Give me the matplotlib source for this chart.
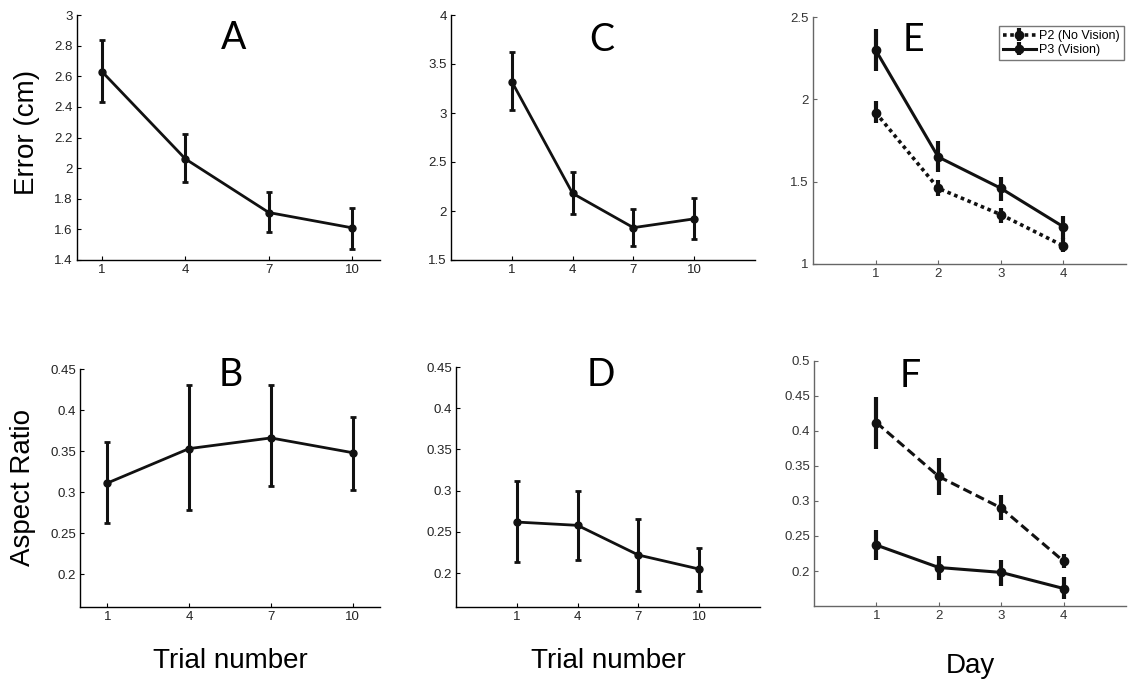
import numpy as np
import matplotlib
matplotlib.use("Agg")
import matplotlib.pyplot as plt

plt.rcParams['font.family'] = ['Liberation Sans', 'DejaVu Sans']

# --- data ---
trials = [1, 4, 7, 10]
days = [1, 2, 3, 4]

a_err = [2.63, 2.06, 1.71, 1.61]
a_hi = [2.84, 2.22, 1.845, 1.74]
a_lo = [2.43, 1.91, 1.58, 1.475]

c_err = [3.32, 2.18, 1.83, 1.92]
c_hi = [3.62, 2.40, 2.02, 2.13]
c_lo = [3.03, 1.97, 1.64, 1.71]

b_ar = [0.311, 0.353, 0.366, 0.348]
b_hi = [0.361, 0.430, 0.430, 0.392]
b_lo = [0.262, 0.278, 0.307, 0.303]

d_ar = [0.262, 0.258, 0.222, 0.205]
d_hi = [0.312, 0.300, 0.266, 0.230]
d_lo = [0.213, 0.216, 0.178, 0.178]

e_p2 = [1.92, 1.46, 1.30, 1.11]
e_p2_hi = [1.99, 1.51, 1.34, 1.16]
e_p2_lo = [1.855, 1.41, 1.25, 1.07]
e_p3 = [2.30, 1.65, 1.46, 1.226]
e_p3_hi = [2.43, 1.75, 1.53, 1.29]
e_p3_lo = [2.175, 1.56, 1.38, 1.15]

f_p2 = [0.412, 0.335, 0.290, 0.214]
f_p2_hi = [0.448, 0.361, 0.309, 0.224]
f_p2_lo = [0.374, 0.309, 0.273, 0.204]
f_p3 = [0.237, 0.205, 0.198, 0.175]
f_p3_hi = [0.259, 0.222, 0.216, 0.192]
f_p3_lo = [0.216, 0.187, 0.179, 0.160]

fig = plt.figure(figsize=(11.28, 6.84), dpi=100)

def style(ax, col='k', size=9.5, lcol='#222'):
    for s in ('top', 'right'):
        ax.spines[s].set_visible(False)
    for s in ('left', 'bottom'):
        ax.spines[s].set_color(col); ax.spines[s].set_linewidth(1.0)
    ax.tick_params(direction='in', length=3, labelsize=size, colors=col, labelcolor=lcol, pad=3)

def errline(ax, x, y, hi, lo, ls='-', cap=2.5, elw=2.2):
    y = np.array(y); yerr = [y - np.array(lo), np.array(hi) - y]
    ax.errorbar(x, y, yerr=yerr, color='#111', ls=ls, lw=2.0, marker='o', ms=5,
                elinewidth=elw, capsize=cap, capthick=2.0)

def letter(x, y, s):
    fig.text(x / 1128, 1 - y / 684, s, fontsize=27, family='Lato', ha='center', va='center')

# panel A
axA = fig.add_axes([77/1128, 1-260/684, 303/1128, 245/684])
errline(axA, trials, a_err, a_hi, a_lo)
axA.set_xlim(0.1, 11); axA.set_ylim(1.4, 3)
axA.set_xticks(trials); axA.set_yticks(np.arange(1.4, 3.01, 0.2))
axA.set_yticklabels(['1.4', '1.6', '1.8', '2', '2.2', '2.4', '2.6', '2.8', '3'])
style(axA)
axA.set_ylabel('Error (cm)', fontsize=20, va='center')
axA.yaxis.set_label_coords(-0.165, 0.52)

# panel C
axC = fig.add_axes([451/1128, 1-260/684, 304/1128, 245/684])
errline(axC, trials, c_err, c_hi, c_lo)
axC.set_xlim(-2, 13); axC.set_ylim(1.5, 4)
axC.set_xticks(trials); axC.set_yticks([1.5, 2, 2.5, 3, 3.5, 4])
axC.set_yticklabels(['1.5', '2', '2.5', '3', '3.5', '4'])
style(axC)

# panel E
axE = fig.add_axes([813/1128, 1-264/684, 313/1128, 247/684])
yE2 = np.array(e_p2); yE3 = np.array(e_p3)
axE.errorbar(days, yE2, yerr=[yE2 - np.array(e_p2_lo), np.array(e_p2_hi) - yE2], color='#111',
             ls=(0, (1, 1)), lw=2.6, marker='o', ms=6, elinewidth=3, capsize=0, label='P2 (No Vision)')
axE.errorbar(days, yE3, yerr=[yE3 - np.array(e_p3_lo), np.array(e_p3_hi) - yE3], color='#111',
             ls='-', lw=2.2, marker='o', ms=6, elinewidth=3, capsize=0, label='P3 (Vision)')
axE.set_xlim(0, 5); axE.set_ylim(1, 2.5)
axE.set_xticks(days); axE.set_yticks([1, 1.5, 2, 2.5])
axE.set_yticklabels(['1', '1.5', '2', '2.5'])
style(axE, col='#666', lcol='#333')
leg = axE.legend(loc='upper right', fontsize=9, frameon=True, fancybox=False, handlelength=2.6,
                 borderpad=0.35, labelspacing=0.15, handletextpad=0.3, bbox_to_anchor=(0.995, 0.965),
                 borderaxespad=0)
leg.get_frame().set_edgecolor('#555'); leg.get_frame().set_linewidth(1.0)

# panel B
axB = fig.add_axes([80/1128, 1-607/684, 300/1128, 238/684])
errline(axB, trials, b_ar, b_hi, b_lo)
axB.set_xlim(0, 11); axB.set_ylim(0.16, 0.45)
axB.set_xticks(trials); axB.set_yticks([0.2, 0.25, 0.3, 0.35, 0.4, 0.45])
axB.set_yticklabels(['0.2', '0.25', '0.3', '0.35', '0.4', '0.45'])
style(axB)
axB.set_ylabel('Aspect Ratio', fontsize=20, va='center')
axB.yaxis.set_label_coords(-0.19, 0.5)
axB.set_xlabel('Trial number', fontsize=20, labelpad=18)

# panel D
axD = fig.add_axes([456/1128, 1-607/684, 304/1128, 240/684])
errline(axD, trials, d_ar, d_hi, d_lo)
axD.set_xlim(-2, 13); axD.set_ylim(0.159, 0.45)
axD.set_xticks(trials); axD.set_yticks([0.2, 0.25, 0.3, 0.35, 0.4, 0.45])
axD.set_yticklabels(['0.2', '0.25', '0.3', '0.35', '0.4', '0.45'])
style(axD)
axD.set_xlabel('Trial number', fontsize=20, labelpad=18)

# panel F
axF = fig.add_axes([814/1128, 1-606/684, 312/1128, 245/684])
yF2 = np.array(f_p2); yF3 = np.array(f_p3)
axF.errorbar(days, yF2, yerr=[yF2 - np.array(f_p2_lo), np.array(f_p2_hi) - yF2], color='#111',
             ls=(0, (3, 1.5)), lw=2.2, marker='o', ms=6, elinewidth=3, capsize=0)
axF.errorbar(days, yF3, yerr=[yF3 - np.array(f_p3_lo), np.array(f_p3_hi) - yF3], color='#111',
             ls='-', lw=2.2, marker='o', ms=6, elinewidth=3, capsize=0)
axF.set_xlim(0, 5); axF.set_ylim(0.15, 0.5)
axF.set_xticks(days); axF.set_yticks([0.2, 0.25, 0.3, 0.35, 0.4, 0.45, 0.5])
axF.set_yticklabels(['0.2', '0.25', '0.3', '0.35', '0.4', '0.45', '0.5'])
style(axF, col='#666', lcol='#333')
axF.set_xlabel('Day', fontsize=20, labelpad=22)

letter(234, 38, 'A')
letter(602, 40, 'C')
letter(913, 40, 'E')
letter(231, 375, 'B')
letter(601, 375, 'D')
letter(910, 376, 'F')

fig.savefig('out.png', dpi=100)
